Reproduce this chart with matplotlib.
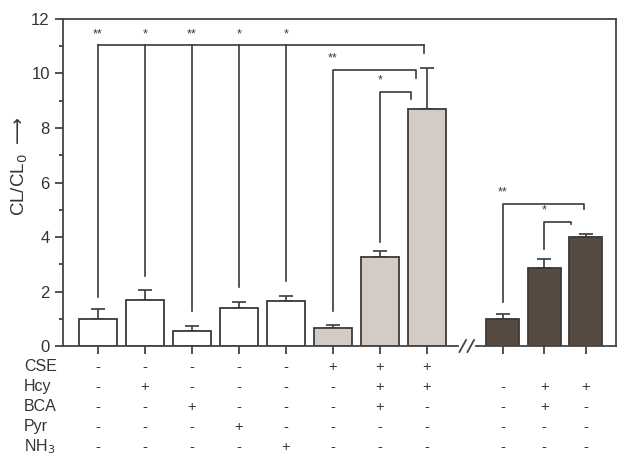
import matplotlib.pyplot as plt
import numpy as np

plt.rcParams['font.family'] = ['Liberation Sans', 'DejaVu Sans']

# bar heights and upper error bars (CL/CL0)
left_vals = [1.0, 1.68, 0.56, 1.41, 1.67, 0.66, 3.26, 8.71]
left_err = [0.34, 0.36, 0.18, 0.19, 0.18, 0.11, 0.21, 1.48]
right_vals = [0.99, 2.88, 3.99]
right_err = [0.19, 0.33, 0.12]

row_names = ['CSE', 'Hcy', 'BCA', 'Pyr', 'NH$_3$']
table = [
    ['-', '-', '-', '-', '-', '+', '+', '+', '', '', ''],
    ['-', '+', '-', '-', '-', '-', '+', '+', '-', '+', '+'],
    ['-', '-', '+', '-', '-', '-', '+', '-', '-', '+', '-'],
    ['-', '-', '-', '+', '-', '-', '-', '-', '-', '-', '-'],
    ['-', '-', '-', '-', '+', '-', '-', '-', '-', '-', '-'],
]

# significance: (x, foot of line, label) under the top bracket
top_y = 11.03
top_feet = [(1, 1.79, '**'), (2, 2.57, '*'), (3, 1.28, '**'), (4, 2.18, '*'), (5, 2.40, '*')]

ec = '#3a3a3a'
light = '#d4cbc4'
dark = '#574a40'

fig = plt.figure(figsize=(6.29, 4.70), dpi=100)
ax = fig.add_axes([0.1002, 0.2638, 0.8791, 0.6958])

xl = np.arange(1, 9)
xr = 9.61 + 0.883 * np.arange(3)
lcolors = ['white'] * 5 + [light] * 3

ax.bar(xl, left_vals, width=0.81, color=lcolors, edgecolor=ec, linewidth=1.3, zorder=2)
ax.bar(xr, right_vals, width=0.70, color=dark, edgecolor=ec, linewidth=1.3, zorder=2)
ax.errorbar(xl, left_vals, yerr=[np.zeros(8), left_err], fmt='none', ecolor=ec,
            elinewidth=1.2, capsize=5, capthick=1.2, zorder=1)
ax.errorbar(xr, right_vals, yerr=[np.zeros(3), right_err], fmt='none', ecolor=ec,
            elinewidth=1.2, capsize=5, capthick=1.2, zorder=1)

lw = 1.2
# big top bracket
ax.plot([1, 7.94], [top_y, top_y], color=ec, lw=lw)
ax.plot([7.94, 7.94], [top_y, 10.74], color=ec, lw=lw)
for x, foot, lab in top_feet:
    ax.plot([x, x], [top_y, foot], color=ec, lw=lw)
    ax.text(x, top_y + 0.2, lab, ha='center', va='bottom', fontsize=9, color=ec)

brackets = [
    (6, 7.77, 10.12, 1.30, 9.85, '**'),
    (7, 7.66, 9.32, 3.82, 9.05, '*'),
    (xr[0], 11.33, 5.21, 1.60, 5.03, '**'),
    (xr[1], 11.06, 4.56, 3.56, 4.47, '*'),
]
for x1, x2, y, f1, f2, lab in brackets:
    ax.plot([x1, x1, x2, x2], [f1, y, y, f2], color=ec, lw=lw)
    ax.text(x1, y + 0.2, lab, ha='center', va='bottom', fontsize=9, color=ec)

ax.set_xlim(0.255, 12.02)
ax.set_ylim(0, 12)
ax.set_yticks(np.arange(0, 13, 2))
ax.set_yticks(np.arange(1, 12, 2), minor=True)
ax.set_xticks(np.concatenate([xl, xr]))
ax.set_xticklabels([])
ax.tick_params(axis='y', which='major', direction='out', length=6, width=1.2, labelsize=12, colors='#333333')
ax.tick_params(axis='y', which='minor', direction='out', length=3, width=1.2, colors='#333333')
ax.tick_params(axis='x', direction='out', length=6, width=1.2, colors='#333333')
for s in ['left', 'top', 'right']:
    ax.spines[s].set_linewidth(1.3)
    ax.spines[s].set_color('#444444')
ax.spines['bottom'].set_visible(False)

# broken bottom axis
ax.plot([0.255, 8.66], [0, 0], color='#444444', lw=1.3, clip_on=False)
ax.plot([9.04, 12.02], [0, 0], color='#444444', lw=1.3, clip_on=False)
for bx in [8.76, 8.93]:
    ax.plot([bx - 0.07, bx + 0.07], [-0.22, 0.22], color='#444444', lw=1.3, clip_on=False)

ax.text(-0.078, 0.55, 'CL/CL$_0$ $\\longrightarrow$', transform=ax.transAxes, rotation=90,
        ha='center', va='center', fontsize=13.5, color='#333333')

trans = ax.get_xaxis_transform()
xs = np.concatenate([xl, xr])
for i, name in enumerate(row_names):
    yy = -0.063 - 0.0615 * i
    ax.text(-0.0705, yy, name, transform=ax.transAxes, ha='left', va='center',
            fontsize=11.5, color='#333333')
    for x, s in zip(xs, table[i]):
        ax.text(x, yy, s, transform=trans, ha='center', va='center', fontsize=10.5, color='#333333')

fig.savefig('out.png', dpi=100)
